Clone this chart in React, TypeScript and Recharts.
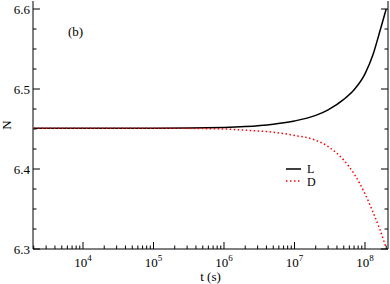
import React from 'react';
import { LineChart, Line, XAxis, YAxis } from 'recharts';

// time (s)
const times = [2000, 1e4, 1e5, 1e6, 2e6, 5e6, 1e7, 2e7, 3e7, 5e7, 7e7, 1e8, 1.3e8, 1.6e8, 2e8];
// N for series L and D
const seriesL = [6.451, 6.451, 6.451, 6.452, 6.453, 6.456, 6.46, 6.467, 6.474, 6.487, 6.499, 6.519, 6.543, 6.57, 6.6];
const seriesD = [6.451, 6.451, 6.451, 6.45, 6.4485, 6.446, 6.442, 6.436, 6.428, 6.411, 6.394, 6.369, 6.346, 6.326, 6.301];

const xMajorTicks = [1e4, 1e5, 1e6, 1e7, 1e8];
const xMajorExponents = ['4', '5', '6', '7', '8'];
const xMinorMultipliers = [2, 3, 4, 5, 6, 7, 8, 9];
const xDecades = [1e3, 1e4, 1e5, 1e6, 1e7, 1e8];
const xDomain = [1953, 2.12e8];

const yMajorTicks = [6.3, 6.4, 6.5, 6.6];
const yMajorLabels = ['6.3', '6.4', '6.5', '6.6'];
const yMinorTicks = [6.325, 6.35, 6.375, 6.425, 6.45, 6.475, 6.525, 6.55, 6.575];
const yDomain = [6.3, 6.61];

const data = times.map((t, i) => ({ t, L: seriesL[i], D: seriesD[i] }));

const xMinorTicks: number[] = [];
xDecades.forEach((d) => xMinorMultipliers.forEach((m) => {
  const v = d * m;
  if (v > xDomain[0] && v < xDomain[1]) xMinorTicks.push(v);
}));
const xAllTicks = [...xMajorTicks, ...xMinorTicks].sort((a, b) => a - b);
const yAllTicks = [...yMajorTicks, ...yMinorTicks].sort((a, b) => a - b);

const FONT = 'Liberation Serif';
const ts = (size: number): React.CSSProperties => ({ fontFamily: FONT, fontSize: size });

const isMajorX = (v: number) => xMajorTicks.indexOf(v) >= 0;
const isMajorY = (v: number) => yMajorTicks.some((m) => Math.abs(m - v) < 1e-9);

const BottomTick = (props: any) => {
  const { x, y, payload } = props;
  const v = payload.value;
  const idx = xMajorTicks.indexOf(v);
  const major = idx >= 0;
  return (
    <g>
      <line x1={x} x2={x} y1={y} y2={y - (major ? 7 : 3.5)} stroke="#000" strokeWidth={1} />
      {major && (
        <text x={x} y={y + 18} textAnchor="middle" style={ts(13)} fill="#000">
          10
          <tspan dy={-6} style={ts(9)}>{xMajorExponents[idx]}</tspan>
        </text>
      )}
    </g>
  );
};

const TopTick = (props: any) => {
  const { x, y, payload } = props;
  const major = isMajorX(payload.value);
  return <line x1={x} x2={x} y1={y} y2={y + (major ? 7 : 3.5)} stroke="#000" strokeWidth={1} />;
};

const LeftTick = (props: any) => {
  const { x, y, payload } = props;
  const v = payload.value;
  const idx = yMajorTicks.findIndex((m) => Math.abs(m - v) < 1e-9);
  const major = idx >= 0;
  return (
    <g>
      <line x1={x} x2={x + (major ? 7 : 3.5)} y1={y} y2={y} stroke="#000" strokeWidth={1} />
      {major && (
        <text x={x - 3} y={y + 4.5} textAnchor="end" style={ts(13)} fill="#000">
          {yMajorLabels[idx]}
        </text>
      )}
    </g>
  );
};

const RightTick = (props: any) => {
  const { x, y, payload } = props;
  const major = isMajorY(payload.value);
  return <line x1={x} x2={x - (major ? 7 : 3.5)} y1={y} y2={y} stroke="#000" strokeWidth={1} />;
};

export default function App() {
  return (
    <div style={{ position: 'absolute', left: 0, top: 0 }}>
      <LineChart width={390} height={284} data={data} margin={{ top: 1, right: 0, bottom: 0, left: 0 }}>
        <XAxis
          xAxisId="b"
          dataKey="t"
          type="number"
          scale="log"
          domain={xDomain}
          allowDataOverflow
          ticks={xAllTicks}
          interval={0}
          tickSize={0}
          tickMargin={0}
          tickLine={false}
          tick={<BottomTick />}
          height={35}
          axisLine={{ stroke: '#000' }}
          label={{ value: 't (s)', position: 'insideBottom', offset: 3, style: ts(13), fill: '#000' }}
        />
        <XAxis
          xAxisId="t"
          orientation="top"
          dataKey="t"
          type="number"
          scale="log"
          domain={xDomain}
          allowDataOverflow
          ticks={xAllTicks}
          interval={0}
          tickSize={0}
          tickMargin={0}
          tickLine={false}
          tick={<TopTick />}
          height={0}
          axisLine={{ stroke: '#000' }}
        />
        <YAxis
          yAxisId="l"
          type="number"
          domain={yDomain}
          allowDataOverflow
          ticks={yAllTicks}
          interval={0}
          tickSize={0}
          tickMargin={0}
          tickLine={false}
          tick={<LeftTick />}
          width={33}
          axisLine={{ stroke: '#000' }}
        />
        <YAxis
          yAxisId="r"
          orientation="right"
          type="number"
          domain={yDomain}
          allowDataOverflow
          ticks={yAllTicks}
          interval={0}
          tickSize={0}
          tickMargin={0}
          tickLine={false}
          tick={<RightTick />}
          width={2}
          axisLine={{ stroke: '#000' }}
        />
        <Line
          xAxisId="b"
          yAxisId="l"
          dataKey="L"
          type="monotone"
          stroke="#000"
          strokeWidth={1.5}
          dot={false}
          isAnimationActive={false}
        />
        <Line
          xAxisId="b"
          yAxisId="l"
          dataKey="D"
          type="monotone"
          stroke="#ff0000"
          strokeWidth={1.5}
          strokeDasharray="1.5 2.5"
          dot={false}
          isAnimationActive={false}
        />
        <text x={6} y={125} transform="rotate(-90 6 125)" textAnchor="middle" dominantBaseline="central" style={ts(13)} fill="#000">N</text>
        <text x={68} y={36} style={ts(13)} fill="#000">(b)</text>
        <line x1={286} x2={301} y1={169} y2={169} stroke="#000" strokeWidth={1.5} />
        <text x={307} y={173} style={ts(12)} fill="#000">L</text>
        <line x1={286} x2={301} y1={181} y2={181} stroke="#ff0000" strokeWidth={1.5} strokeDasharray="1.5 2.5" />
        <text x={307} y={186} style={ts(12)} fill="#000">D</text>
      </LineChart>
    </div>
  );
}
